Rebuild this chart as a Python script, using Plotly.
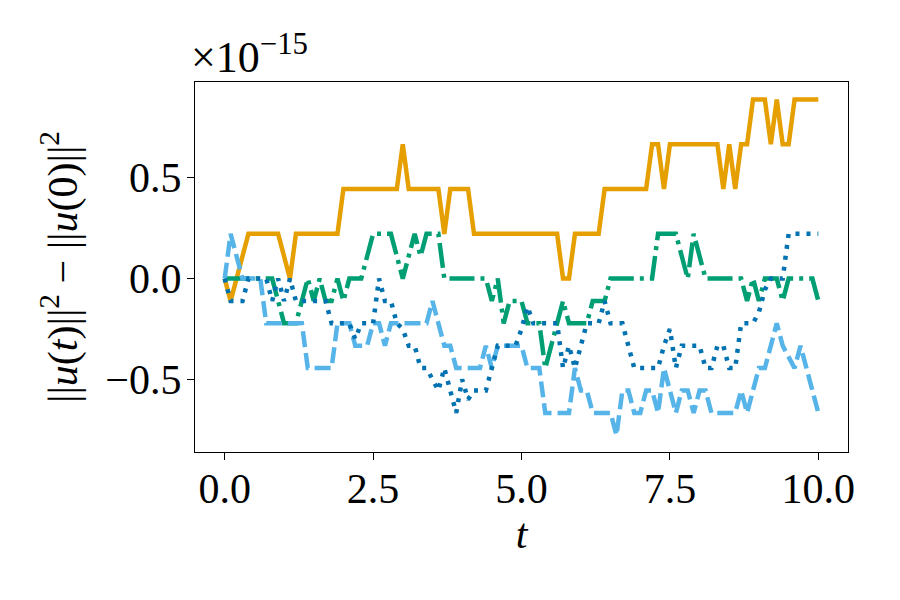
import numpy as np
import plotly.graph_objects as go

# time grid (t from 0 to 10, step 0.1)
t = np.round(np.linspace(0, 10, 101), 1)

# values of ||u(t)||^2 - ||u(0)||^2 in units of 1e-15
orange_solid = [
    0, -0.111, 0, 0.111, 0.222, 0.222, 0.222, 0.222, 0.222, 0.222,
    0.111, 0, 0.222, 0.222, 0.222, 0.222, 0.222, 0.222, 0.222, 0.222,
    0.444, 0.444, 0.444, 0.444, 0.444, 0.444, 0.444, 0.444, 0.444, 0.444,
    0.666, 0.444, 0.444, 0.444, 0.444, 0.444, 0.444, 0.222, 0.444, 0.444,
    0.444, 0.444, 0.222, 0.222, 0.222, 0.222, 0.222, 0.222, 0.222, 0.222,
    0.222, 0.222, 0.222, 0.222, 0.222, 0.222, 0.222, 0, 0, 0.222,
    0.222, 0.222, 0.222, 0.222, 0.444, 0.444, 0.444, 0.444, 0.444, 0.444,
    0.444, 0.444, 0.666, 0.666, 0.444, 0.666, 0.666, 0.666, 0.666, 0.666,
    0.666, 0.666, 0.666, 0.666, 0.444, 0.666, 0.444, 0.666, 0.666, 0.888,
    0.888, 0.888, 0.666, 0.888, 0.666, 0.666, 0.888, 0.888, 0.888, 0.888,
    0.888,
]

green_dashdot = [
    0, 0, 0, 0, 0, 0, 0, 0, 0, -0.111,
    -0.222, -0.222, -0.222, -0.111, 0, -0.111, 0, -0.111, -0.111, 0,
    -0.111, 0, 0, 0, 0.111, 0.222, 0.222, 0.222, 0.222, 0.111,
    0, 0.111, 0.222, 0.111, 0.222, 0.222, 0.222, 0, 0, 0,
    0, 0, 0, 0, 0, -0.111, 0, -0.222, -0.111, -0.111,
    -0.111, -0.222, -0.222, -0.222, -0.444, -0.333, -0.222, -0.111, -0.222, -0.222,
    -0.222, -0.222, -0.111, -0.111, -0.111, 0, 0, 0, 0, 0,
    0, 0, 0, 0.222, 0.222, 0.222, 0.222, 0.111, 0, 0.222,
    0.111, 0, 0, 0, 0, 0, 0, 0, -0.111, 0,
    -0.111, 0, 0, 0, -0.111, 0, 0, 0, 0, 0,
    -0.111,
]

darkblue_dotted = [
    0, -0.111, -0.111, -0.111, 0, 0, 0, 0, -0.111, 0,
    -0.111, 0, -0.111, -0.111, -0.111, -0.111, -0.111, -0.111, -0.222, -0.222,
    -0.222, -0.222, -0.3, -0.222, -0.222, -0.222, 0, -0.111, -0.111, -0.222,
    -0.25, -0.333, -0.333, -0.444, -0.444, -0.5, -0.555, -0.444, -0.555, -0.666,
    -0.5, -0.6, -0.555, -0.555, -0.555, -0.444, -0.333, -0.333, -0.333, -0.333,
    -0.25, -0.14, -0.222, -0.222, -0.222, -0.222, -0.222, -0.444, -0.333, -0.444,
    -0.333, -0.222, -0.222, -0.222, -0.111, -0.222, -0.222, -0.222, -0.333, -0.444,
    -0.444, -0.444, -0.444, -0.444, -0.333, -0.25, -0.444, -0.333, -0.333, -0.333,
    -0.333, -0.444, -0.444, -0.333, -0.333, -0.444, -0.444, -0.222, -0.222, -0.222,
    -0.166, -0.055, 0, 0, 0, 0.222, 0.222, 0.222, 0.222, 0.222,
    0.222,
]

lightblue_dashed = [
    0, 0.222, 0.111, 0, 0, 0, 0, -0.222, -0.222, -0.222,
    -0.222, -0.222, -0.222, -0.222, -0.444, -0.444, -0.444, -0.444, -0.444, -0.222,
    -0.222, -0.222, -0.333, -0.333, -0.333, -0.222, -0.222, -0.333, -0.222, -0.222,
    -0.222, -0.222, -0.222, -0.222, -0.222, -0.111, -0.222, -0.333, -0.333, -0.444,
    -0.444, -0.444, -0.444, -0.444, -0.333, -0.444, -0.333, -0.333, -0.333, -0.333,
    -0.333, -0.444, -0.444, -0.444, -0.666, -0.666, -0.666, -0.666, -0.666, -0.444,
    -0.555, -0.555, -0.666, -0.666, -0.666, -0.666, -0.777, -0.555, -0.555, -0.666,
    -0.666, -0.555, -0.555, -0.666, -0.444, -0.555, -0.666, -0.555, -0.555, -0.666,
    -0.555, -0.555, -0.666, -0.666, -0.666, -0.666, -0.666, -0.555, -0.666, -0.555,
    -0.444, -0.444, -0.333, -0.222, -0.333, -0.389, -0.444, -0.333, -0.444, -0.555,
    -0.666,
]

x_ticks = [0, 2.5, 5, 7.5, 10]
y_ticks = [-0.5, 0.0, 0.5]

FONT = "Liberation Serif"
FS = 42

fig = go.Figure()
series = [
    (orange_solid, "#E69F00", "solid"),
    (green_dashdot, "#009E73", "25px,6px,4px,6px"),
    (lightblue_dashed, "#56B4E9", "16px,6px"),
    (darkblue_dotted, "#0072B2", "4px,7px"),
]
for vals, col, dash in series:
    fig.add_trace(go.Scatter(
        x=t, y=vals, mode="lines",
        line=dict(color=col, width=4.5, dash=dash),
        showlegend=False, hoverinfo="skip",
    ))

axis_common = dict(
    showline=True, mirror=True, linecolor="black", linewidth=1.2,
    ticks="outside", ticklen=7, tickwidth=1.2, tickcolor="black",
    showgrid=False, zeroline=False,
    tickfont=dict(family=FONT, size=FS, color="black"),
)

fig.update_layout(
    width=900, height=600,
    paper_bgcolor="white", plot_bgcolor="white",
    margin=dict(l=195, r=52, t=82, b=148),
    font=dict(family=FONT, size=FS, color="black"),
    xaxis=dict(
        range=[-0.5, 10.5], tickvals=x_ticks, tickformat=".1f",
        ticklabelstandoff=-8,
        title=dict(text="<i>t</i>", font=dict(family=FONT, size=FS), standoff=4),
        **axis_common,
    ),
    yaxis=dict(
        range=[-0.86, 0.975], tickvals=y_ticks, tickformat=".1f",
        ticklabelstandoff=-3,
        title=dict(text="||<i>u</i>(<i>t</i>)||<sup>2</sup> − ||<i>u</i>(0)||<sup>2</sup>",
                   font=dict(family=FONT, size=FS), standoff=14),
        **axis_common,
    ),
    annotations=[dict(
        text="×10<sup>−15</sup>", xref="paper", yref="paper",
        x=0, y=1, xanchor="left", yanchor="bottom", yshift=-2, xshift=-6,
        showarrow=False, font=dict(family=FONT, size=44, color="black"),
    )],
)

fig.write_html("out.html")
